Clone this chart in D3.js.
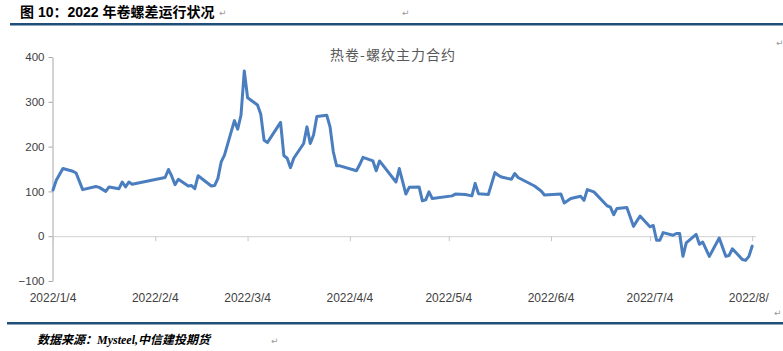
<!DOCTYPE html>
<html><head><meta charset="utf-8">
<script src="https://cdn.jsdelivr.net/npm/d3@7"></script>
<style>body{margin:0;background:#fff;} svg{display:block;}</style>
</head><body><svg id="c" width="783" height="351"></svg>
<script>
// ---- data ----
const dates = [
"2022-01-04","2022-01-05","2022-01-07","2022-01-10","2022-01-11","2022-01-13","2022-01-17","2022-01-18","2022-01-20","2022-01-21",
"2022-01-24","2022-01-25","2022-01-26","2022-01-27","2022-01-28","2022-02-07","2022-02-08","2022-02-09","2022-02-10","2022-02-11",
"2022-02-14","2022-02-15","2022-02-16","2022-02-17","2022-02-21","2022-02-22","2022-02-23","2022-02-24","2022-02-25","2022-02-28",
"2022-03-01","2022-03-02","2022-03-03","2022-03-04","2022-03-07","2022-03-08","2022-03-09","2022-03-10","2022-03-14","2022-03-15",
"2022-03-16","2022-03-17","2022-03-18","2022-03-21","2022-03-22","2022-03-23","2022-03-24","2022-03-25","2022-03-28","2022-03-29",
"2022-03-30","2022-03-31","2022-04-01","2022-04-06","2022-04-07","2022-04-08","2022-04-11","2022-04-12","2022-04-13","2022-04-18",
"2022-04-19","2022-04-21","2022-04-22","2022-04-25","2022-04-26","2022-04-27","2022-04-28","2022-04-29","2022-05-05","2022-05-06",
"2022-05-09","2022-05-11","2022-05-12","2022-05-13","2022-05-16","2022-05-18","2022-05-19","2022-05-20","2022-05-23","2022-05-24",
"2022-05-25","2022-05-30","2022-06-01","2022-06-02","2022-06-07","2022-06-08","2022-06-10","2022-06-13","2022-06-14","2022-06-15",
"2022-06-17","2022-06-21","2022-06-22","2022-06-23","2022-06-24","2022-06-27","2022-06-29","2022-07-01","2022-07-04","2022-07-05",
"2022-07-06","2022-07-07","2022-07-08","2022-07-11","2022-07-12","2022-07-13","2022-07-14","2022-07-15","2022-07-18","2022-07-19",
"2022-07-20","2022-07-22","2022-07-25","2022-07-27","2022-07-28","2022-07-29","2022-08-01","2022-08-02","2022-08-03","2022-08-04"
];
const values = [
103,125,151,145,141,104,111,109,100,110,
106,121,110,121,116,131,149,134,115,127,
112,113,106,135,112,113,129,166,181,258,
239,270,369,309,293,272,214,209,254,180,
174,153,174,207,244,207,226,267,270,244,
188,157,157,146,160,176,168,146,168,121,
151,94,109,110,79,81,99,84,90,94,
93,90,118,95,93,142,136,132,127,140,
131,112,101,92,94,74,84,89,80,104,
99,68,65,48,62,64,22,45,21,24,
-9,-9,8,2,6,6,-45,-15,4,-18,
-13,-45,-4,-45,-43,-28,-52,-54,-45,-22
];
const yTicks = [-100, 0, 100, 200, 300, 400];
const xTickLabels = ["2022/1/4","2022/2/4","2022/3/4","2022/4/4","2022/5/4","2022/6/4","2022/7/4","2022/8/4"];
const headerText = "图 10：2022 年卷螺差运行状况";
const chartTitle = "热卷-螺纹主力合约";
const sourceText = "数据来源：Mysteel,中信建投期货";

// ---- drawing ----
const svg = d3.select("#c");
svg.append("rect").attr("width",783).attr("height",351).attr("fill","#fff");

const parse = d3.timeParse("%Y-%m-%d");
const parseTick = d3.timeParse("%Y/%m/%d");
const data = dates.map((d,i)=>({date:parse(d), value:values[i]}));
const xTickDates = xTickLabels.map(parseTick);

const x = d3.scaleTime().domain([parse("2022-01-04"), parse("2022-08-05")]).range([53, 755.5]);
const y = d3.scaleLinear().domain([-100, 400]).range([281, 57]);

// header
svg.append("text").attr("x",20).attr("y",17)
  .attr("font-family","'Liberation Sans','Noto Sans CJK SC',sans-serif")
  .attr("font-weight","bold").attr("font-size",14).attr("fill","#000").text(headerText);
const mark = (px,py)=>svg.append("text").attr("x",px).attr("y",py).attr("font-size",9)
  .attr("font-family","'DejaVu Sans',sans-serif").attr("fill","#9a9a9a").text("↵");
mark(219,16); mark(402,16); mark(776,46); mark(774,316); mark(271,344);

svg.append("rect").attr("x",10).attr("y",23).attr("width",773).attr("height",2.5).attr("fill","#1F4E79");
svg.append("rect").attr("x",7).attr("y",322).attr("width",776).attr("height",2.5).attr("fill","#1F4E79");

// chart title
svg.append("text").attr("x",393).attr("y",60).attr("text-anchor","middle")
  .attr("font-family","'Noto Sans CJK SC',sans-serif").attr("font-size",14)
  .attr("letter-spacing",1).attr("fill","#595959").text(chartTitle);

// y axis
const gy = svg.append("g").attr("transform","translate(52.5,0)")
  .call(d3.axisLeft(y).tickValues(yTicks).tickSize(4).tickSizeOuter(0).tickPadding(4));
gy.select(".domain").attr("stroke","#A6A6A6");
gy.selectAll(".tick line").attr("stroke","#A6A6A6");
gy.selectAll(".tick text").attr("font-family","'Liberation Sans',Arial,sans-serif")
  .attr("font-size",11.5).attr("fill","#404040");

// x axis at zero
const gx = svg.append("g").attr("transform",`translate(0,${y(0)})`)
  .call(d3.axisBottom(x).tickValues(xTickDates).tickSize(5).tickSizeOuter(0).tickFormat(""));
gx.select(".domain").attr("stroke","#D0D0D0");
gx.selectAll(".tick line").attr("stroke","#C8C8C8");

// x labels at bottom (last one clipped by the chart edge, as in the source)
svg.append("clipPath").attr("id","lblclip").append("rect").attr("x",0).attr("y",280).attr("width",769).attr("height",40);
svg.append("g").attr("clip-path","url(#lblclip)")
  .selectAll("text").data(xTickDates).join("text")
  .attr("x",d=>x(d)).attr("y",302).attr("text-anchor","middle")
  .attr("font-family","'Liberation Sans',Arial,sans-serif").attr("font-size",12)
  .attr("fill","#404040").text((d,i)=>xTickLabels[i]);

// line
svg.append("path").datum(data)
  .attr("fill","none").attr("stroke","#4A7EBF").attr("stroke-width",3)
  .attr("stroke-linejoin","round").attr("stroke-linecap","round")
  .attr("d", d3.line().x(d=>x(d.date)).y(d=>y(d.value)));

// source
svg.append("text").attr("x",37).attr("y",344)
  .attr("font-family","'Liberation Serif','Noto Sans CJK SC',serif")
  .attr("font-style","italic").attr("font-weight","bold").attr("font-size",12)
  .attr("fill","#000").text(sourceText);
</script>
</body></html>
